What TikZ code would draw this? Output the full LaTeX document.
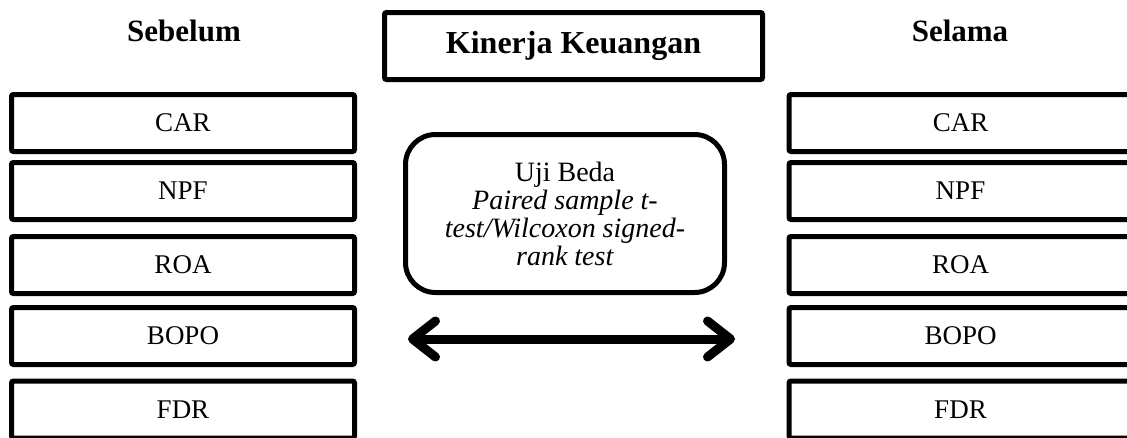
\documentclass[tikz,border=0pt]{standalone}
\usepackage{fontspec}
\setmainfont{Liberation Serif}
\usetikzlibrary{arrows.meta}

\begin{document}
\begin{tikzpicture}[x=1pt,y=-1pt,
    var/.style={draw, line width=5pt, rounded corners=2pt, inner sep=0pt,
      minimum width=343pt, minimum height=57pt, font=\fontsize{27}{32}\selectfont},
    judul/.style={anchor=base, font=\fontsize{31}{36}\selectfont\bfseries}]
  \useasboundingbox (0,0) rectangle (1127,437);
  % judul kolom
  \node[judul] (sebelum) at (184,41) {Sebelum};
  \node[judul] (selama) at (960,41) {Selama};
  \node[var, minimum width=378pt, minimum height=67pt,
    font=\fontsize{32}{36}\selectfont\bfseries] (kinerja) at (573.5,46) {Kinerja Keuangan};
  % sebelum
  \node[var] (car1) at (183,123) {CAR};
  \node[var] (npf1) at (183,191) {NPF};
  \node[var] (roa1) at (183,265) {ROA};
  \node[var] (bopo1) at (183,336) {BOPO};
  \node[var] (fdr1) at (183,409.5) {FDR};
  % selama
  \node[var] (car2) at (960.5,123) {CAR};
  \node[var] (npf2) at (960.5,191) {NPF};
  \node[var] (roa2) at (960.5,265) {ROA};
  \node[var] (bopo2) at (960.5,336) {BOPO};
  \node[var] (fdr2) at (960.5,409.5) {FDR};
  % uji beda
  \node[draw, line width=5pt, rounded corners=30pt, minimum width=319pt,
    minimum height=158pt, align=center, font=\fontsize{28}{28}\selectfont]
    (uji) at (565,213.5) {Uji Beda\\ \textit{Paired sample t-}\\
      \textit{test/Wilcoxon signed-}\\ \textit{rank test}};
  \coordinate (kiri) at (408,339);
  \coordinate (kanan) at (735,339);
  \draw [line width=9pt, {Straight Barb[round,length=23pt,width=36pt]}-{Straight Barb[round,length=23pt,width=36pt]}]
    (kiri) -- (kanan);
\end{tikzpicture}
\end{document}
